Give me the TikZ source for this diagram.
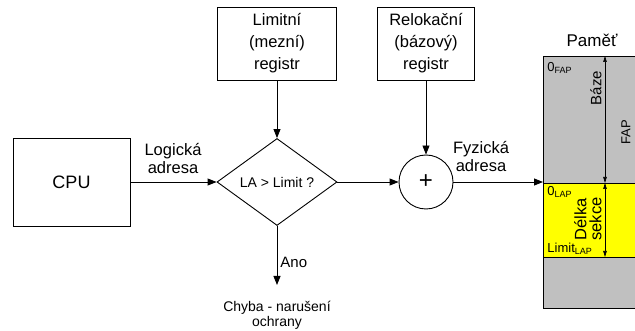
\documentclass[tikz,border=0pt]{standalone}
\usepackage{fontspec}
\setmainfont{Liberation Sans}
\usetikzlibrary{arrows.meta,shapes.geometric}
\definecolor{memgrey}{HTML}{C0C0C0}
\definecolor{secyellow}{HTML}{FFFF00}
\begin{document}
\begin{tikzpicture}[x=1pt,y=-1pt,
  line width=0.9pt,
  flow/.style={-{Triangle[length=9pt,width=7pt]}},
  dimarrow/.style={{Triangle[length=6pt,width=3.5pt]}-{Triangle[length=6pt,width=3.5pt]}, line width=0.7pt},
  box/.style={draw, rectangle, align=center, inner sep=0pt,
    font=\fontsize{16.5}{22}\selectfont},
  lbl/.style={align=center, inner sep=0pt, font=\fontsize{16.5}{18}\selectfont},
  memlbl/.style={inner sep=0pt, font=\fontsize{13}{15}\selectfont},
]
\useasboundingbox (0,0) rectangle (635,331);

% processing blocks
\node[box, minimum width=117pt, minimum height=88pt] (cpu) at (71.5,182) {\fontsize{18}{20}\selectfont CPU};
\node[box, minimum width=119pt, minimum height=73pt] (lim) at (277,43.5) {Limitní\\(mezní)\\registr};
\node[box, minimum width=97pt, minimum height=73pt] (rel) at (426,43.5) {Relokační\\(bázový)\\registr};
\node[draw, diamond, minimum width=120pt, minimum height=87pt, inner sep=0pt,
  font=\fontsize{14}{16}\selectfont] (dec) at (277,182) {LA > Limit ?};
\node[draw, circle, minimum size=54pt, inner sep=0pt,
  font=\fontsize{24}{24}\selectfont] (plus) at (426,182) {+};

% memory column
\node[draw, fill=memgrey, rectangle, anchor=north west, inner sep=0pt,
  minimum width=93pt, minimum height=252pt] (mem) at (543,56) {};
\node[draw, fill=secyellow, rectangle, anchor=north west, inner sep=0pt,
  minimum width=93pt, minimum height=74pt] (sec) at (543,183) {};
\node[anchor=base, inner sep=0pt, font=\fontsize{17}{19}\selectfont] (memtitle) at (592,47) {Paměť};

% dimension arrows inside memory
\coordinate (dA) at (605,56);
\coordinate (dB) at (605,183);
\coordinate (dC) at (605,257);
\draw[dimarrow] (dA) -- (dB);
\draw[dimarrow] (dB) -- (dC);
\node[rotate=90, inner sep=0pt, font=\fontsize{15}{17}\selectfont] (baze) at (596,88) {Báze};
\node[rotate=90, inner sep=0pt, font=\fontsize{13}{15}\selectfont] (fap) at (626,132) {FAP};
\node[rotate=90, align=center, inner sep=0pt, font=\fontsize{16.5}{15}\selectfont] (delka) at (588,219) {Délka\\sekce};

\node[memlbl, anchor=base west] (zfap) at (547,72) {0\raisebox{-2pt}{\fontsize{9}{9}\selectfont FAP}};
\node[memlbl, anchor=base west] (zlap) at (547,196) {0\raisebox{-2pt}{\fontsize{9}{9}\selectfont LAP}};
\node[memlbl, anchor=base west] (limlap) at (547,253) {Limit\raisebox{-2pt}{\fontsize{9}{9}\selectfont LAP}};

% connectors
\draw[flow] (cpu.east) -- (dec.west);
\draw[flow] (lim.south) -- (dec.north);
\draw[flow] (dec.east) -- (plus.west);
\draw[flow] (rel.south) -- (plus.north);
\draw[flow] (plus.east) -- (plus.east -| mem.west);
\coordinate (errend) at (277,285);
\draw[flow] (dec.south) -- (errend);

% labels
\node[lbl, anchor=south] (logl) at (173,174) {Logická\\adresa};
\node[lbl, anchor=south] (fyzl) at (481,172) {Fyzická\\adresa};
\node[anchor=base west, inner sep=0pt, font=\fontsize{15}{17}\selectfont] (ano) at (280,268) {Ano};
\node[anchor=north, align=center, inner sep=0pt, font=\fontsize{14}{15}\selectfont] (err) at (277,301) {Chyba - narušení\\ochrany};
\end{tikzpicture}
\end{document}
